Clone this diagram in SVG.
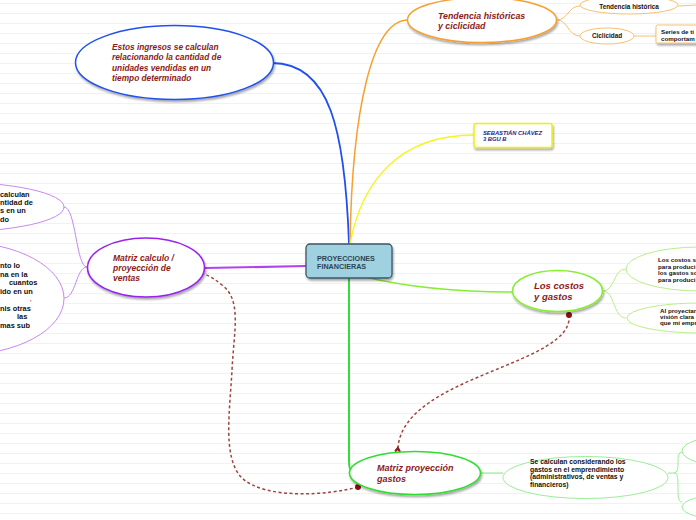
<svg xmlns="http://www.w3.org/2000/svg" width="696" height="520" viewBox="0 0 696 520">
<defs>
<pattern id="lines" width="10" height="10" patternUnits="userSpaceOnUse">
<rect width="10" height="10" fill="#ffffff"/>
<line x1="0" y1="3.5" x2="10" y2="3.5" stroke="#f1f1f1" stroke-width="1"/>
</pattern>
<filter id="sh" x="-20%" y="-20%" width="140%" height="150%">
<feDropShadow dx="1" dy="2" stdDeviation="1" flood-color="#000" flood-opacity="0.35"/>
</filter>
<marker id="arr" viewBox="0 0 10 10" refX="2" refY="5" markerWidth="7" markerHeight="7" orient="auto-start-reverse" markerUnits="userSpaceOnUse">
<path d="M8,1 L2,5 L8,9 M11,1 L5,5 L11,9" fill="none" stroke="#8b1a1a" stroke-width="1.6"/>
</marker>
</defs>
<style>
.red{font-family:"Liberation Sans",Arial,sans-serif;font-weight:bold;font-style:italic;fill:#8b1a1a}
.det{font-family:"Liberation Sans",Arial,sans-serif;font-weight:bold;fill:#111}
.node{fill:#ffffff}
.dash{fill:none;stroke:#a0453d;stroke-width:1.5;stroke-dasharray:3,2.5}
.dot{fill:#8b1010}
</style>
<rect width="696" height="520" fill="url(#lines)"/>

<g id="connectors" fill="none">
<path d="M349,244 C345,130 330,63 272,63" stroke="#2050ee" stroke-width="1.8"/>
<path d="M350,244 C352,110 372,20 408,20" stroke="#f7a030" stroke-width="1.5"/>
<path d="M350,244 C362,180 400,135 474,135" stroke="#f5f520" stroke-width="1.3"/>
<path d="M306,266 L205,268" stroke="#b540f0" stroke-width="2.2"/>
<path d="M365,277 C420,290 470,292 513,292" stroke="#88ee33" stroke-width="1.5"/>
<path d="M349,278 L349,460 Q349,470 352,472" stroke="#33dd33" stroke-width="2"/>
<path d="M87,267 C76,267 76,207 64,207" stroke="#c888f0" stroke-width="1"/>
<path d="M87,267 C76,267 76,298 64,298" stroke="#c888f0" stroke-width="1"/>
<path d="M557,20 C568,20 568,6 580,6" stroke="#f8c070" stroke-width="1"/>
<path d="M557,20 C568,20 568,36 580,36" stroke="#f8c070" stroke-width="1"/>
<path d="M678,6 L696,5" stroke="#f8c070" stroke-width="1"/>
<path d="M634,36 L656,36" stroke="#f8c070" stroke-width="1"/>
<path d="M603,291 C615,291 613,269 626,269" stroke="#bbee88" stroke-width="1"/>
<path d="M603,291 C615,291 613,318 626,318" stroke="#bbee88" stroke-width="1"/>
<path d="M480,473 L503,473" stroke="#99ee99" stroke-width="1.2"/>
<path d="M668,473 L674,473 C682,473 674,452 682,452" stroke="#99ee99" stroke-width="1"/>
<path d="M674,473 C682,473 674,502 682,502" stroke="#99ee99" stroke-width="1"/>
<path class="dash" d="M569,315 C575,365 405,375 398,447" marker-end="url(#arr)"/>
<path class="dash" d="M358,487 C330,495 265,500 242,478 C222,458 230,410 232,370 C234,330 242,300 222,285 C210,275 200,271 186,270.5" marker-end="url(#arr)"/>
<circle class="dot" cx="569" cy="315" r="3"/>
<circle class="dot" cx="358" cy="487" r="3"/>
</g>

<g id="n-central">
<rect x="306" y="244" width="86" height="34" rx="4" fill="#9fd1e0" stroke="#3c5666" stroke-width="1.3" filter="url(#sh)"/>
<text x="317" y="260.5" font-family="Liberation Sans,Arial,sans-serif" font-weight="bold" font-size="7.2" fill="#2b4656">PROYECCIONES</text>
<text x="317" y="268.5" font-family="Liberation Sans,Arial,sans-serif" font-weight="bold" font-size="7.2" fill="#2b4656">FINANCIERAS</text>
</g>

<g id="n-ingresos">
<ellipse cx="174.5" cy="62.5" rx="99" ry="37" class="node" stroke="#2050ee" stroke-width="1.5" filter="url(#sh)"/>
<text class="red" font-size="8.3"><tspan x="112" y="49.5">Estos ingresos se calculan</tspan><tspan x="112" y="60">relacionando la cantidad de</tspan><tspan x="112" y="70.5">unidades vendidas en un</tspan><tspan x="112" y="81">tiempo determinado</tspan></text>
</g>

<g id="n-tendencia">
<ellipse cx="482" cy="20" rx="74.5" ry="22.5" class="node" stroke="#f7a030" stroke-width="1.5" filter="url(#sh)"/>
<text class="red" font-size="8.8"><tspan x="438" y="18.5">Tendencia históricas</tspan><tspan x="438" y="28.5">y ciclicidad</tspan></text>
</g>

<g id="n-tend-hist">
<ellipse cx="629" cy="5" rx="49" ry="9" class="node" stroke="#f8c070" stroke-width="1"/>
<text class="det" font-size="6.4" x="629" y="9" text-anchor="middle">Tendencia histórica</text>
</g>

<g id="n-ciclicidad">
<ellipse cx="607" cy="36" rx="27" ry="8" class="node" stroke="#f8c070" stroke-width="1"/>
<text class="det" font-size="6.4" x="607" y="38.3" text-anchor="middle">Ciclicidad</text>
</g>

<g id="n-series">
<rect x="656" y="25" width="50" height="18" rx="1.5" class="node" stroke="#f8c070" stroke-width="1" filter="url(#sh)"/>
<text class="det" font-size="6.2"><tspan x="661" y="34.3">Series de ti</tspan><tspan x="661" y="40.8">comportam</tspan></text>
</g>

<g id="n-sebastian">
<rect x="474" y="123.5" width="78" height="24" rx="2" class="node" stroke="#f0f010" stroke-width="1.5" filter="url(#sh)"/>
<text font-family="Liberation Sans,Arial,sans-serif" font-weight="bold" font-style="italic" font-size="5.8" fill="#1c1c8c"><tspan x="483" y="134.6">SEBASTIÁN CHÁVEZ</tspan><tspan x="483" y="141">3 BGU B</tspan></text>
</g>

<g id="n-matriz-calculo">
<ellipse cx="146" cy="267.5" rx="58.5" ry="29.5" class="node" stroke="#9922ee" stroke-width="1.6" filter="url(#sh)"/>
<text class="red" font-size="8.5"><tspan x="113" y="260.5">Matriz calculo /</tspan><tspan x="113" y="270.5">proyección de</tspan><tspan x="113" y="280.5">ventas</tspan></text>
</g>

<g id="n-left-1">
<ellipse cx="-50" cy="207" rx="114" ry="25" class="node" stroke="#c888f0" stroke-width="1"/>
<text class="det" font-size="7.4" x="0" y="196.5">calculan</text>
<text class="det" font-size="7.4" x="0" y="205">ntidad de</text>
<text class="det" font-size="7.4" x="0" y="213.3">s en un</text>
<text class="det" font-size="7.4" x="0" y="221.7">do</text>
</g>

<g id="n-left-2">
<ellipse cx="-40" cy="298.5" rx="104" ry="56.5" class="node" stroke="#c888f0" stroke-width="1"/>
<text class="det" font-size="7.4" x="0" y="268.3">nto lo</text>
<text class="det" font-size="7.4" x="0" y="276.7">na en la</text>
<text class="det" font-size="7.4" x="9" y="285.3">cuantos</text>
<text class="det" font-size="7.4" x="0" y="294.3">ido en un</text>
<text class="det" font-size="5" x="30" y="300.5">,</text>
<text class="det" font-size="7.4" x="0" y="310.7">nis otras</text>
<text class="det" font-size="7.4" x="17" y="319.3">las</text>
<text class="det" font-size="7.4" x="0" y="328">mas sub</text>
</g>

<g id="n-costos">
<ellipse cx="557.5" cy="291" rx="45" ry="20.5" class="node" stroke="#88ee33" stroke-width="1.6" filter="url(#sh)"/>
<text class="red" font-size="9.5"><tspan x="534" y="288.5">Los costos</tspan><tspan x="534" y="300">y gastos</tspan></text>
</g>

<g id="n-costos-1">
<ellipse cx="700" cy="269" rx="74" ry="22" class="node" stroke="#bbee88" stroke-width="1"/>
<text class="det" font-size="6.2"><tspan x="658" y="262">Los costos se</tspan><tspan x="658" y="268.7">para produci</tspan><tspan x="658" y="275.3">los gastos so</tspan><tspan x="658" y="282">para produci</tspan></text>
</g>

<g id="n-costos-2">
<ellipse cx="700" cy="318" rx="73" ry="15" class="node" stroke="#bbee88" stroke-width="1"/>
<text class="det" font-size="6.2"><tspan x="660" y="312.7">Al proyectar</tspan><tspan x="660" y="318.7">visión clara</tspan><tspan x="660" y="324.7">que mi empr</tspan></text>
</g>

<g id="n-matriz-gastos">
<ellipse cx="415" cy="473" rx="65.5" ry="21.5" class="node" stroke="#33dd33" stroke-width="1.6" filter="url(#sh)"/>
<text class="red" font-size="9"><tspan x="377" y="470.5">Matriz proyección</tspan><tspan x="377" y="482">gastos</tspan></text>
</g>

<g id="n-gastos-detalle">
<ellipse cx="585.5" cy="477.5" rx="82.5" ry="21" class="node" stroke="#99ee99" stroke-width="1"/>
<text class="det" font-size="6.8"><tspan x="530" y="464">Se calculan considerando los</tspan><tspan x="530" y="471.5">gastos en el emprendimiento</tspan><tspan x="530" y="479">(administrativos, de ventas y</tspan><tspan x="530" y="486.5">financieros)</tspan></text>
</g>

<g id="n-gastos-r1">
<ellipse cx="735" cy="451" rx="53" ry="16" class="node" stroke="#99ee99" stroke-width="1"/>
</g>
<g id="n-gastos-r2">
<ellipse cx="730" cy="507" rx="48" ry="13" class="node" stroke="#99ee99" stroke-width="1"/>
</g>
</svg>
